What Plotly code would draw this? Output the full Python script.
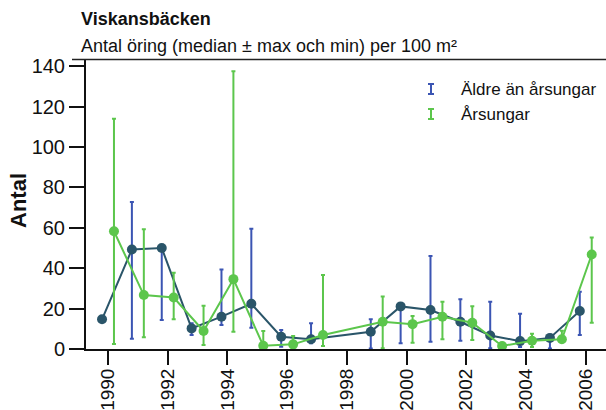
import plotly.graph_objects as go

# ---- data ----
years = [1990, 1991, 1992, 1993, 1994, 1995, 1996, 1997, 1999, 2000, 2001, 2002, 2003, 2004, 2005, 2006]

old_median = [14.7, 49.3, 50.0, 10.2, 16.0, 22.4, 6.1, 4.8, 8.5, 21.1, 19.3, 13.5, 6.7, 3.9, 5.5, 18.8]
old_max = [14.7, 72.8, 50.5, 12.7, 39.4, 59.6, 9.4, 12.7, 14.7, 21.5, 46.1, 24.6, 23.4, 17.5, 7.0, 28.3]
old_min = [14.7, 5.1, 14.3, 6.9, 11.9, 10.5, 1.1, 2.8, 0.3, 2.8, 3.6, 4.1, 0.4, 1.0, 0.3, 6.9]

young_median = [58.3, 26.7, 25.5, 8.9, 34.6, 1.6, 2.3, 6.9, 13.5, 12.3, 16.0, 13.0, 1.5, 4.1, 4.8, 46.8]
young_max = [114.0, 59.3, 37.7, 21.4, 137.5, 8.9, 6.4, 36.6, 26.0, 16.3, 23.4, 21.2, 2.5, 7.6, 9.0, 55.2]
young_min = [2.5, 5.8, 14.7, 2.0, 8.5, 0.4, 0.5, 1.5, 0.4, 3.1, 4.8, 4.4, 0.8, 1.0, 3.3, 13.0]

series_names = ["Äldre än årsungar", "Årsungar"]
x_ticks = [1990, 1992, 1994, 1996, 1998, 2000, 2002, 2004, 2006]
y_ticks = [0, 20, 40, 60, 80, 100, 120, 140]

title = "Viskansbäcken"
subtitle = "Antal öring (median ± max och min) per 100 m²"
y_title = "Antal"

# ---- style ----
W, H = 606, 410
L, R, T, B = 86, 0, 59, 61
PW, PH = W - L - R, H - T - B
FONT = "Liberation Sans, Arial, sans-serif"
DARK = "#2a5569"
BLUE = "#3b55b3"
GREEN = "#5cc64c"
OFF_OLD, OFF_YOUNG = -0.2, 0.2


def px(x):
    return (x - L) / PW


def py(y):
    return (H - B - y) / PH


fig = go.Figure()

fig.add_trace(go.Scatter(
    x=[y + OFF_OLD for y in years], y=old_median, mode="lines+markers",
    name=series_names[0], showlegend=False,
    line=dict(color=DARK, width=2), marker=dict(color=DARK, size=10),
    error_y=dict(type="data", symmetric=False,
                 array=[mx - md for mx, md in zip(old_max, old_median)],
                 arrayminus=[md - mn for md, mn in zip(old_median, old_min)],
                 color=BLUE, thickness=2, width=2),
))

fig.add_trace(go.Scatter(
    x=[y + OFF_YOUNG for y in years], y=young_median, mode="lines+markers",
    name=series_names[1], showlegend=False,
    line=dict(color=GREEN, width=2), marker=dict(color=GREEN, size=10),
    error_y=dict(type="data", symmetric=False,
                 array=[mx - md for mx, md in zip(young_max, young_median)],
                 arrayminus=[md - mn for md, mn in zip(young_median, young_min)],
                 color=GREEN, thickness=2, width=2),
))

shapes = []
annotations = []

# underline of subtitle / top frame
shapes.append(dict(type="line", xref="paper", yref="paper",
                   x0=px(72), x1=1.0, y0=py(59.5), y1=py(59.5),
                   line=dict(color="#222", width=1.5)))

# custom legend with error-bar glyphs
for i, (name, col) in enumerate(zip(series_names, [BLUE, GREEN])):
    cy = 89 + i * 25
    cx = 431
    shapes.append(dict(type="line", xref="paper", yref="paper",
                       x0=px(cx), x1=px(cx), y0=py(cy - 5), y1=py(cy + 5),
                       line=dict(color=col, width=2)))
    for yy in (cy - 5, cy + 5):
        shapes.append(dict(type="line", xref="paper", yref="paper",
                           x0=px(cx - 3), x1=px(cx + 3), y0=py(yy), y1=py(yy),
                           line=dict(color=col, width=2)))
    annotations.append(dict(text=name, xref="paper", yref="paper",
                            x=px(459), y=py(cy), xanchor="left", yanchor="middle",
                            showarrow=False, font=dict(family=FONT, size=17, color="#111")))

annotations.append(dict(text="<b>" + title + "</b>", xref="paper", yref="paper",
                        x=px(79), y=py(19), xanchor="left", yanchor="middle",
                        showarrow=False, font=dict(family=FONT, size=18, color="#111")))
annotations.append(dict(text=subtitle, xref="paper", yref="paper",
                        x=px(79), y=py(46), xanchor="left", yanchor="middle",
                        showarrow=False, font=dict(family=FONT, size=18, color="#111")))
annotations.append(dict(text="<b>" + y_title + "</b>", xref="paper", yref="paper",
                        x=px(18), y=py(201), xanchor="center", yanchor="middle",
                        textangle=-90, showarrow=False,
                        font=dict(family=FONT, size=22, color="#111")))

fig.update_layout(
    width=W, height=H,
    margin=dict(l=L, r=R, t=T, b=B, pad=0),
    paper_bgcolor="white", plot_bgcolor="white",
    font=dict(family=FONT, size=20, color="#111"),
    shapes=shapes, annotations=annotations,
    showlegend=False,
)

fig.update_xaxes(
    range=[1990 - 22 / 29.86, 1990 + (W - 108) / 29.86],
    tickvals=x_ticks, ticktext=[str(t) for t in x_ticks], tickangle=-90,
    ticks="outside", ticklen=14, tickwidth=2, tickcolor="#111",
    ticklabelstandoff=-4,
    showline=True, linecolor="#111", linewidth=2,
    showgrid=False, zeroline=False, automargin=False,
    tickfont=dict(family=FONT, size=19, color="#111"),
)

fig.update_yaxes(
    range=[0, 143.6],
    tickvals=y_ticks, ticks="outside", ticklen=15, tickwidth=2, tickcolor="#111",
    showline=True, linecolor="#111", linewidth=2,
    showgrid=False, zeroline=False, automargin=False,
    tickfont=dict(family=FONT, size=20, color="#111"),
)

fig.write_html("out.html", config={"displayModeBar": False},
               post_script="document.body.style.margin='0px';")
